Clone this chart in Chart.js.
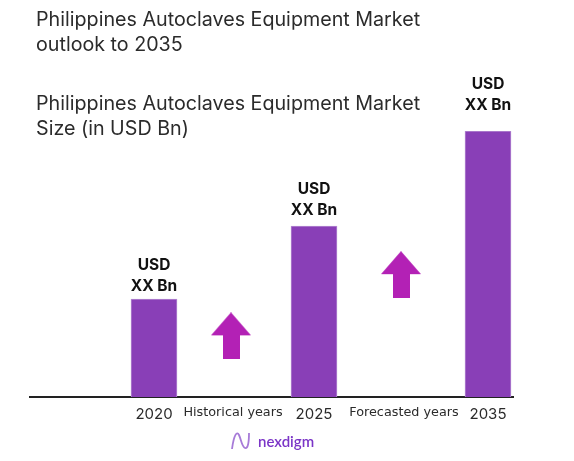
<!DOCTYPE html>
<html>
<head>
<meta charset="utf-8">
<script src="https://cdn.jsdelivr.net/npm/chart.js@4"></script>
<style>
  html, body { margin: 0; padding: 0; background: #fff; }
  #wrap { position: relative; width: 574px; height: 461px; overflow: hidden; }
  .head { position: absolute; left: 36px; font: 400 19.7px/25px Inter, sans-serif; color: #2b2b2b; white-space: nowrap; }
  #logo { position: absolute; left: 231px; top: 430px; display: flex; align-items: center; gap: 7px; }
  #logo span { font: 600 15px Lato, sans-serif; color: #7b35c7; }
</style>
</head>
<body>
<div id="wrap">
  <canvas id="marketChart" width="574" height="461"></canvas>
  <div class="head" style="top:7px">Philippines Autoclaves Equipment Market<br>outlook to 2035</div>
  <div class="head" style="top:91px">Philippines Autoclaves Equipment Market<br>Size (in USD Bn)</div>
  <div id="logo">
    <svg width="20" height="22" viewBox="0 0 20 22"><path d="M1 19C3 4 6 1 8 5s3 12 6 13 4-6 4-15" fill="none" stroke="#a77bd8" stroke-width="1.8"/></svg>
    <span>nexdigm</span>
  </div>
</div>
<script>
const categories = ["2020", "Historical years", "2025", "Forecasted years", "2035"];
const categorySlots = [154, 233, 314, 404, 488];
const barYears = [154, 314, 488];
const barValues = [36.8, 64.3, 100];
const barLabel = ["USD", "XX Bn"];
const arrowSlots = [231, 401];
const arrowValues = [23, 46];

// the labels do not sit at the same distance above each bar
const labelGaps = [34, 37, 47];

function makeArrow() {
  const c = document.createElement("canvas");
  c.width = 40;
  c.height = 47;
  const g = c.getContext("2d");
  g.fillStyle = "#b321b5";
  g.beginPath();
  g.moveTo(20, 0);
  g.lineTo(40, 23);
  g.lineTo(29, 23);
  g.lineTo(29, 47);
  g.lineTo(12, 47);
  g.lineTo(12, 23);
  g.lineTo(0, 23);
  g.closePath();
  g.fill();
  return c;
}

const barLabels = {
  id: "barLabels",
  afterDatasetsDraw(chart) {
    const { ctx } = chart;
    ctx.save();
    ctx.font = "700 15.5px Inter, sans-serif";
    ctx.fillStyle = "#111";
    ctx.textAlign = "center";
    ctx.textBaseline = "middle";
    chart.getDatasetMeta(0).data.forEach((bar, i) => {
      ctx.fillText(barLabel[0], bar.x, bar.y - labelGaps[i]);
      ctx.fillText(barLabel[1], bar.x, bar.y - labelGaps[i] + 21);
    });
    ctx.restore();
  },
};

new Chart(document.getElementById("marketChart").getContext("2d"), {
  data: {
    datasets: [
      {
        type: "bar",
        data: barYears.map((x, i) => ({ x: x, y: barValues[i] })),
        backgroundColor: "#893fb7",
        borderColor: "#b48ad2",
        borderWidth: 1,
        barThickness: 46,
      },
      {
        type: "scatter",
        data: arrowSlots.map((x, i) => ({ x: x, y: arrowValues[i] })),
        pointStyle: makeArrow(),
      },
    ],
  },
  options: {
    responsive: false,
    animation: false,
    layout: { padding: { left: 30, right: 61, top: 131, bottom: 0 } },
    plugins: { legend: { display: false }, tooltip: { enabled: false } },
    scales: {
      x: {
        type: "linear",
        offset: false,
        min: 30,
        max: 513,
        afterBuildTicks(scale) {
          scale.ticks = categorySlots.map((v) => ({ value: v }));
        },
        afterFit(scale) {
          scale.height = 64;
        },
        grid: { display: false, drawTicks: false },
        border: { color: "#222", width: 2 },
        ticks: {
          autoSkip: false,
          maxRotation: 0,
          padding: 8,
          color: "#2b2b2b",
          callback: (value, index) => categories[index],
          font: (ctx) =>
            ctx.index % 2
              ? { family: "'DejaVu Sans', sans-serif", size: 12.8 }
              : { family: "Inter, sans-serif", size: 15 },
        },
      },
      y: { display: false, min: 0, max: 100 },
    },
  },
  plugins: [barLabels],
});
</script>
</body>
</html>
